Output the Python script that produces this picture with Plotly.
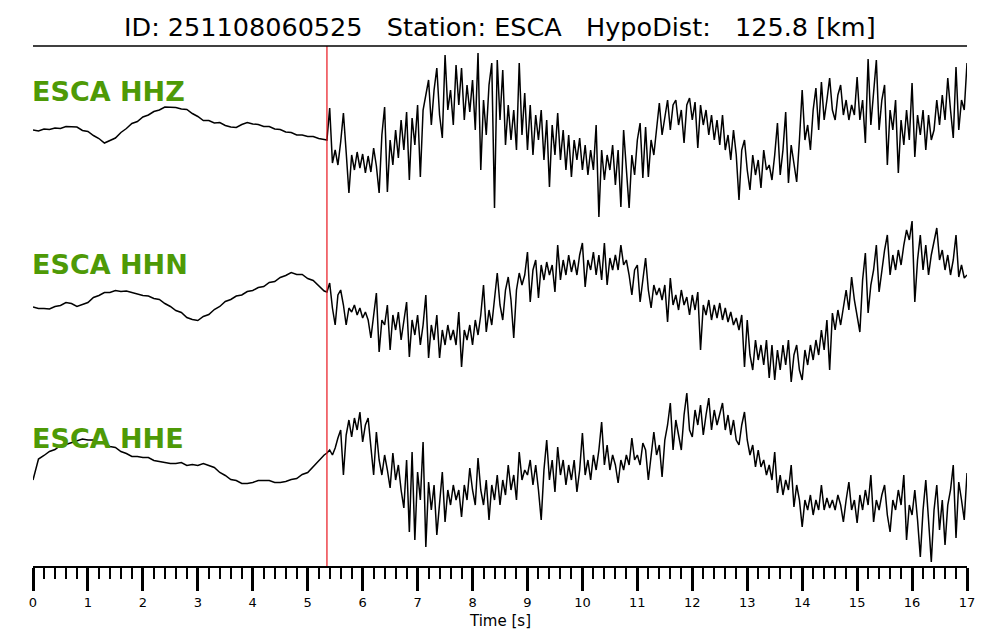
import numpy as np
import plotly.graph_objects as go

# ---- time grids (s) ----
t_pre = [round(0.1 * i, 2) for i in range(54)]            # 0.0 .. 5.3
t_post = [round(5.35 + 0.05 * k, 2) for k in range(234)]  # 5.35 .. 17.0
p_pick = 5.35

title_text = "ID: 251108060525\u00a0\u00a0\u00a0Station: ESCA\u00a0\u00a0\u00a0HypoDist:\u00a0\u00a0\u00a0125.8 [km]"
channels = ["ESCA HHZ", "ESCA HHN", "ESCA HHE"]

# ---- amplitudes (arbitrary units) ----
hhz_pre = [0, -1, 1, 0.5, 2, 1.5, 3.5, 3, 3, -0.5,
           -1.5, -5.5, -8.5, -13, -10.5, -8, -2.5, 1.5, 6.5, 8.5,
           13, 15, 18.5, 20, 23, 22.5, 22.5, 21, 20.5, 16.5,
           13.5, 9.5, 9.5, 7, 7.5, 4.5, 3, 2.5, 5.5, 7.5,
           6, 5.5, 3.5, 3.5, 1, 0.5, -2, -2.5, -5, -5,
           -6.5, -6.5, -8.5, -9.5]
hhz_post = [-10, 22, -33, -20, -35, -12, 17, -22, -63, -25, -40, -22, -38,
            -24, -43, -26, -42, -18, -36, -63, -5, 23, -62, -10, -35, 0, -28, 10, -20, 18, -50, 12, -15,
            25, -47, 20, 35, 50, 5, 40, 62, 15, -8, 75, 20, 40, 5, 65, 25, 62, 10, 45, 18,
            50, 0, 77, -40, 30, -5, 45, 67, -78, 70, 10, 60, -15, 25, -10, 20, -20, 67, -5, 37,
            -20, 25, -25, 15, -10, 20, -30, 10, -57, 5, -25, 17, -30, 0, -40, -5, -47, -10, -30, -8,
            -40, -15, -45, -20, -40, 5, -87, -20, -50, -25, -40, -15, -55, -20, -77, 0, -45, -78, -25, -45,
            -10, 7, -48, 3, -47, -10, -25, 5, 27, -5, 15, 30, 0, 25, 30, 5, 20, -13, 25, 32,
            10, 28, -18, 25, 5, 20, -5, 15, -10, 10, -15, 15, -20, -5, -30, 0, -25, -70, -20, -10,
            -40, -60, -25, -45, -30, -58, -20, -40, -35, -50, -25, 7, -45, -20, 18, -53, -15, -35, -52, -10,
            40, -10, 5, -20, 20, 42, 0, 48, 10, 30, 52, 20, 10, 35, 45, 15, 30, 10, 25, 15,
            53, 10, 30, -13, 71, 5, 35, 70, 0, 30, 45, -35, 20, 0, 30, -43, 10, -15, 20, -10,
            47, -27, 15, -5, 20, -20, 15, -10, 0, 30, 5, 35, 10, 52, 20, -8, 63, 0, 30, 20,
            67]

hhn_pre = [-7, -8.5, -8.5, -9, -6.5, -5.5, -2.5, -3.5, -6.5, -4.5,
           -2.5, 2.5, 4.5, 7.5, 7.5, 9.5, 8.5, 9, 7.5, 6.5,
           4.5, 4, 1.5, 0.5, -3.5, -6.5, -10.5, -12.5, -17.5, -19.5,
           -20.5, -16.5, -14.5, -9.5, -6.5, -1.5, 0.5, 4, 5, 8.5,
           9.5, 12.5, 13.5, 17.5, 18.5, 22.5, 24.5, 27.5, 25.5, 25.5,
           21.5, 19.5, 14.5, 9]
hhn_post = [8, 17, -8, -25, 5, 10, -5, -25, -8, -12, -5, -15, -8,
            -18, -12, -20, -38, -15, 7, -52, -20, -25, -5, -50, -15, -30, -12, -40, -20, -2, -57, -20, -35,
            -15, -45, -25, 5, -58, -25, -40, -15, -58, -30, -45, -25, -40, -30, -45, -12, -67, -30, -40, -25,
            -45, -20, -35, -15, 15, -32, -10, -25, 5, 27, -5, -20, 10, 23, 0, -38, 10, 27, 15, 25,
            48, -2, 30, 40, 2, 35, 20, 38, 25, 35, 8, 55, 20, 40, 25, 45, 28, 40, 25, 45,
            57, 13, 40, 30, 48, 25, 45, 20, 57, 15, 42, 30, 45, 30, 55, 35, 40, 25, 5, 30,
            35, -2, 20, 42, 10, -8, 15, 5, 12, 0, 15, -22, 22, -5, 5, -10, 10, -5, 3, -15,
            5, -10, 8, -50, -5, -15, 0, -20, -5, -18, -3, -20, -8, -22, -12, -25, -18, -30, -15, -67,
            -20, -55, -70, -40, -60, -45, -65, -40, -78, -45, -80, -50, -70, -45, -65, -40, -82, -55, -45, -70,
            -80, -50, -65, -45, -60, -40, -55, -30, -50, -20, -70, -13, -30, -10, -25, -5, 10, -10, 23, 0,
            -15, -32, 20, 47, -13, 15, 30, 55, 8, 30, 50, 65, 25, 45, 30, 50, 35, 55, 70, 60,
            79, -2, 40, 65, 30, 55, 25, 45, 60, 72, 40, 50, 30, 45, 25, 40, 65, 23, 35, 22,
            25]

hhe_pre = [-10, 11, 14.5, 18.5, 20.5, 24.5, 25.5, 27.5, 29.5, 31,
           30, 30, 27.5, 26.5, 23.5, 22.5, 18.5, 16.5, 13.5, 13.5,
           12.5, 12.5, 9.5, 8.5, 7.5, 6.5, 6.5, 7.5, 4.5, 5.5,
           4.5, 6.5, 4.5, 2.5, -2.5, -5.5, -9.5, -10.5, -13.5, -13.5,
           -12.5, -10.5, -10.5, -10.5, -12.5, -12.5, -11.5, -9.5, -8.5, -4.5,
           -2.5, 3.5, 8.5, 15]
hhe_post = [17, 20, 15, 22, 32, 40, -5, 35, 50, 33, 52, 40, 58,
            28, 45, 52, 23, -5, 38, 10, -5, 15, 0, -18, 17, -10, 5, -20, -38, 10, -62, 18, -70,
            -2, -30, 28, -77, -12, -40, -15, -65, -30, -2, -52, -20, -35, -15, -30, -20, -47, -15, -30, 2,
            -20, -35, 12, -20, -35, -10, -50, -15, -30, -5, -35, -10, -25, 5, -20, -5, -30, 18, -10, 0,
            -5, 10, -15, 5, -20, -50, 0, 30, -10, 10, -22, 23, -5, 10, -15, 5, -10, 10, -22, 0,
            37, -5, 10, -10, 15, 0, 20, 48, 5, 25, 0, 15, 5, -13, 10, 0, 15, 5, 32, 10,
            15, 5, 27, 20, -10, 15, 38, 15, 25, -7, 30, 45, 67, 20, 50, 35, 20, 55, 77, 40,
            33, 60, 45, 65, 35, 55, 72, 40, 60, 45, 55, 67, 40, 55, 35, 50, 30, 25, 45, 58,
            30, 15, 25, 3, 20, 3, 10, -5, 5, -10, 18, -23, -5, -25, -10, -20, 5, -37, -15, -30,
            -57, -30, -40, -25, -45, -30, -40, -15, -40, -28, -38, -30, -40, -25, -35, -52, -30, -12, -40, -30,
            -53, -25, -40, -20, -35, -5, -52, -30, -40, -25, -15, -45, -62, -30, -40, -20, -35, -5, -70, -35,
            -45, -20, -50, -87, -40, -10, -50, -92, -40, -15, -60, -30, -75, -35, -20, 5, -68, -12, -30, -50,
            -3]

# vertical placement of each trace on the shared canvas
offsets = [436, 266, 96]
label_y = [475, 302, 128]
label_color = "#4e9a06"

t_all = t_pre + t_post
traces = [hhz_pre + hhz_post, hhn_pre + hhn_post, hhe_pre + hhe_post]

fig = go.Figure()
for vals, off in zip(traces, offsets):
    fig.add_trace(go.Scatter(
        x=t_all, y=np.array(vals, dtype=float) + off, mode="lines",
        line=dict(color="black", width=1.5), showlegend=False, hoverinfo="skip"))

for name, ly in zip(channels, label_y):
    fig.add_annotation(x=0, xref="paper", y=ly, yref="y", text="<b>" + name + "</b>",
                       showarrow=False, xanchor="left", yanchor="middle", xshift=-3,
                       font=dict(family="DejaVu Sans", size=27, color=label_color))

# P pick line
fig.add_shape(type="line", x0=p_pick, x1=p_pick, xref="x", y0=0, y1=1, yref="paper",
              line=dict(color="#e8141c", width=1.2))
# top rule under the title
fig.add_shape(type="line", x0=0, x1=1, xref="paper", y0=1, y1=1, yref="paper",
              line=dict(color="black", width=1.6))

fig.add_annotation(x=0.5, xref="paper", y=1, yref="paper", yshift=19, text=title_text,
                   showarrow=False, xanchor="center", yanchor="middle",
                   font=dict(family="DejaVu Sans", size=25.5, color="black"))
fig.add_annotation(x=0.5, xref="paper", y=0, yref="paper", yshift=-55, text="Time [s]",
                   showarrow=False, xanchor="center", yanchor="middle",
                   font=dict(family="DejaVu Sans", size=15, color="black"))

fig.update_layout(
    width=992, height=632,
    margin=dict(l=25, r=33, t=38, b=74),
    paper_bgcolor="white", plot_bgcolor="white",
    xaxis=dict(range=[0, 17], showgrid=False, zeroline=False, showline=True,
               linecolor="black", linewidth=2, ticks="outside", ticklen=23, tickwidth=2.5,
               tickcolor="black", tick0=0, dtick=1,
               tickfont=dict(family="DejaVu Sans", size=13, color="black"),
               minor=dict(ticks="outside", ticklen=11, tickwidth=2, tickcolor="black",
                          dtick=0.2, tick0=0, showgrid=False)),
    yaxis=dict(range=[0, 520], visible=False, showgrid=False, zeroline=False),
)

fig.write_html("out.html", config={"displayModeBar": False})
